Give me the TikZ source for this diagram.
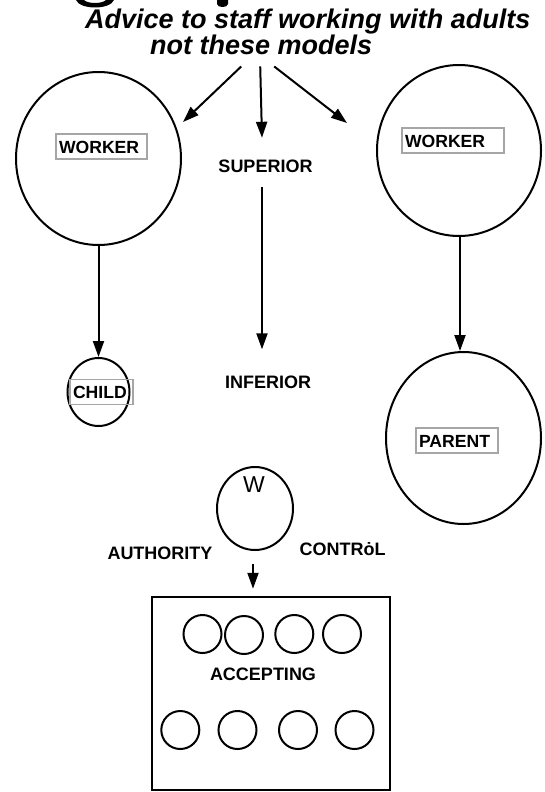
\documentclass[tikz,border=0pt]{standalone}
\usepackage{fontspec}
\setmainfont{Liberation Sans}
\usetikzlibrary{arrows.meta,shapes.geometric}
\tikzset{
  ring/.style={draw, ellipse, line width=2pt, inner sep=0pt},
  arr/.style={line width=2pt, -{Triangle[width=11pt,length=16pt]}},
  lbl/.style={inner sep=0pt, text height=13pt, text depth=0pt, font=\fontsize{18}{18}\selectfont\bfseries},
  tag/.style={draw=black!35, line width=1.5pt, inner xsep=3pt, inner ysep=6pt, text height=13pt, text depth=0pt, align=left, font=\fontsize{17.6}{18}\selectfont\bfseries},
  ttl/.style={inner sep=0pt, anchor=base west, font=\fontsize{27}{27}\selectfont\bfseries\itshape},
  dot/.style={draw, circle, line width=2pt, inner sep=0pt, minimum size=38pt}
}
\begin{document}
\begin{tikzpicture}[x=1pt,y=-1pt]
\useasboundingbox (0,0) rectangle (544,792);
% cut-off fragments at the top
\fill (76,0) .. controls (80,10) and (110,10) .. (114,0) -- (106,0) .. controls (102,4) and (88,4) .. (84,0) -- cycle;
\fill (217,0) -- (228,0) -- (228,4) .. controls (228,8) and (217,8) .. (217,4) -- cycle;
% title
\node[ttl] (title1) at (85,29) {Advice to staff working with adults};
\node[ttl] (title2) at (150,55) {not these models};
% left model
\node[ring, minimum width=165pt, minimum height=173pt] (lw) at (98.5,158.5) {};
\node[tag, text width=85pt] (lwt) at (101.5,146.5) {WORKER};
\node[ring, minimum width=62pt, minimum height=68pt] (child) at (98.5,392) {};
\node[tag, text width=57pt] (childt) at (101.5,392) {CHILD};
\draw[arr] (lw.south) -- (child.north);
% middle model
\node[lbl] (sup) at (265.5,165.5) {SUPERIOR};
\node[lbl] (inf) at (268,382) {INFERIOR};
\draw[arr] ([shift={(-3.5,15)}]sup.south) -- ([shift={(-6,-26)}]inf.north);
% right model
\node[ring, minimum width=164pt, minimum height=171pt] (rw) at (459,150.5) {};
\node[tag, text width=96pt] (rwt) at (453,140.5) {WORKER};
\node[ring, minimum width=155pt, minimum height=172pt] (par) at (463.5,438) {};
\node[tag, text width=76pt] (part) at (457,440.5) {PARENT};
\draw[arr] ([xshift=1pt]rw.south) -- ([xshift=1pt]rw.south |- par.north);
% arrows from the title
\coordinate (tl) at (183,122);
\coordinate (tr) at (347,123);
\draw[arr] ([shift={(-20,11)}]title2.south) -- (tl);
\draw[arr] ([shift={(-1,11)}]title2.south) -- ([shift={(-3.5,-21)}]sup.north);
\draw[arr] ([shift={(13,11)}]title2.south) -- (tr);
% bottom model
\node[ring, minimum width=76pt, minimum height=83pt] (w) at (255,508.5) {};
\node[inner sep=0pt, text height=17pt, text depth=0pt, font=\fontsize{23}{23}\selectfont] (wl) at (254,484) {W};
\node[lbl] (auth) at (160,552.5) {AUTHORITY};
\node[lbl] (ctrl) at (342.5,548.5) {CONTR\.{o}L};
\node[draw, line width=2.5pt, minimum width=238pt, minimum height=193pt, inner sep=0pt] (box) at (271,693.5) {};
\draw[arr] ([shift={(-2,13)}]w.south) -- ([shift={(-18,-7)}]box.north);
\node[lbl] (acc) at (263,674) {ACCEPTING};
\node[dot] (a1) at (202.5,634) {};
\node[dot] (a2) at (244,635) {};
\node[dot] (a3) at (294.3,634) {};
\node[dot] (a4) at (342,634) {};
\node[dot] (b1) at (180.3,730) {};
\node[dot] (b2) at (237.5,730) {};
\node[dot] (b3) at (298,730) {};
\node[dot] (b4) at (354.5,730) {};
\end{tikzpicture}
\end{document}
